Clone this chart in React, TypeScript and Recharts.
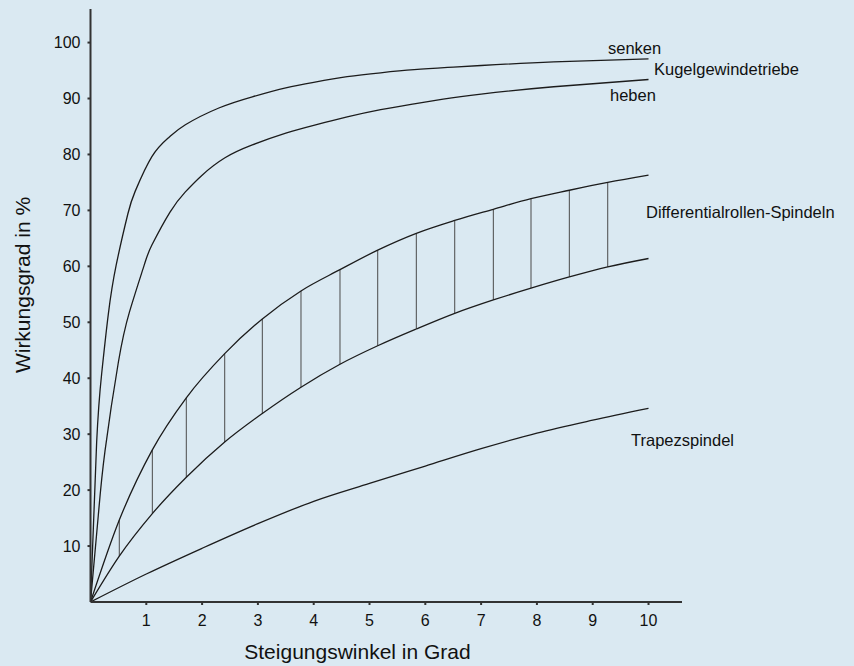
import React from 'react';
import { LineChart, Line, XAxis, YAxis, ReferenceLine } from 'recharts';

// Kugelgewindetriebe – senken
const senkenX = [0, 0.11, 0.2, 0.32, 0.46, 0.67, 0.8, 1.1, 1.4, 1.7, 2.3, 2.9, 3.5, 4.0, 4.6, 5.2, 5.8, 6.4, 7.0, 8.3, 10];
const senkenY = [0, 28.5, 40.8, 51.5, 60.2, 69.4, 73.4, 79.6, 83.0, 85.3, 88.3, 90.3, 91.9, 92.9, 93.9, 94.6, 95.15, 95.55, 95.9, 96.55, 97.1];

// Kugelgewindetriebe – heben
const hebenX = [0, 0.14, 0.26, 0.5, 0.7, 0.965, 1.1, 1.425, 1.7, 2.0, 2.41, 2.9, 3.5, 4.0, 4.6, 5.2, 5.8, 6.32, 7.0, 8.3, 10];
const hebenY = [0, 15.5, 27, 42.9, 51.9, 60.3, 63.8, 69.7, 73.3, 76.3, 79.4, 81.7, 83.8, 85.2, 86.7, 88.0, 89.05, 89.9, 90.8, 92.1, 93.4];

// Differentialrollen-Spindeln (Band)
const diffX = [0, 0.516, 1.108, 1.717, 2.405, 3.079, 3.772, 4.471, 5.147, 5.839, 6.527, 7.219, 7.894, 8.581, 9.269, 10];
const diffUpper = [0, 14.65, 27.2, 36.5, 44.4, 50.6, 55.6, 59.4, 62.9, 65.9, 68.2, 70.2, 72.1, 73.6, 75.0, 76.3];
const diffLower = [0, 8.2, 15.8, 22.3, 28.6, 33.7, 38.4, 42.5, 45.8, 48.8, 51.6, 54.0, 56.1, 58.1, 59.9, 61.4];

// Trapezspindel
const trapezX = [0, 1, 2, 3, 4, 5, 6, 7, 8, 9, 10];
const trapezY = [0, 5, 9.6, 14, 18, 21.2, 24.3, 27.4, 30.2, 32.5, 34.6];

const xTicks = [1, 2, 3, 4, 5, 6, 7, 8, 9, 10];
const yTicks = [10, 20, 30, 40, 50, 60, 70, 80, 90, 100];

const toPts = (xs: number[], ys: number[]) => xs.map((x, i) => ({ x, y: ys[i] }));

const senkenData = toPts(senkenX, senkenY);
const hebenData = toPts(hebenX, hebenY);
const upperData = toPts(diffX, diffUpper);
const lowerData = toPts(diffX, diffLower);
const trapezData = toPts(trapezX, trapezY);

const BG = '#dae9f2';
const INK = '#1c1c1c';
const FONT = '"Liberation Sans", Arial, Helvetica, sans-serif';

export default function App() {
  const hatchIdx = diffX.map((_, i) => i).filter((i) => i > 0 && i < diffX.length - 1);
  return (
    <div style={{ position: 'absolute', left: 0, top: 0, width: 854, height: 666, background: BG, fontFamily: FONT }}>
      <LineChart width={854} height={666} margin={{ top: 9, right: 172, left: 0, bottom: 0 }}>
        <XAxis
          type="number"
          dataKey="x"
          domain={[0, 10.6]}
          ticks={xTicks}
          allowDataOverflow
          height={64}
          tickSize={3}
          tickMargin={10}
          stroke="#333"
          strokeWidth={2}
          tick={{ fill: '#111', fontSize: 16, fontFamily: FONT }}
        />
        <YAxis
          type="number"
          dataKey="y"
          domain={[0, 106]}
          ticks={yTicks}
          allowDataOverflow
          width={90.5}
          tickSize={3}
          tickMargin={7}
          stroke="#333"
          strokeWidth={2}
          tick={{ fill: '#111', fontSize: 16, fontFamily: FONT }}
        />
        {hatchIdx.map((i) => (
          <ReferenceLine
            key={'h' + i}
            segment={[{ x: diffX[i], y: diffLower[i] }, { x: diffX[i], y: diffUpper[i] }]}
            stroke="#4a4a4a"
            strokeWidth={1}
            ifOverflow="visible"
          />
        ))}
        <Line data={senkenData} dataKey="y" type="natural" stroke={INK} strokeWidth={1.3} dot={false} isAnimationActive={false} />
        <Line data={hebenData} dataKey="y" type="natural" stroke={INK} strokeWidth={1.3} dot={false} isAnimationActive={false} />
        <Line data={upperData} dataKey="y" type="monotone" stroke={INK} strokeWidth={1.3} dot={false} isAnimationActive={false} />
        <Line data={lowerData} dataKey="y" type="monotone" stroke={INK} strokeWidth={1.3} dot={false} isAnimationActive={false} />
        <Line data={trapezData} dataKey="y" type="monotone" stroke={INK} strokeWidth={1.3} dot={false} isAnimationActive={false} />
      </LineChart>
      <svg width={854} height={666} style={{ position: 'absolute', left: 0, top: 0, pointerEvents: 'none' }}>
        <g fontFamily={FONT} fill="#111">
          <text x={608} y={54} fontSize={16.5}>senken</text>
          <text x={654} y={75} fontSize={16.5}>Kugelgewindetriebe</text>
          <text x={610} y={101} fontSize={16.5}>heben</text>
          <text x={646} y={218} fontSize={16.5}>Differentialrollen-Spindeln</text>
          <text x={631} y={446} fontSize={16.5}>Trapezspindel</text>
          <text x={357.5} y={659} fontSize={21} textAnchor="middle">Steigungswinkel in Grad</text>
          <text x={0} y={0} fontSize={21} textAnchor="middle" transform="translate(30,285) rotate(-90)">Wirkungsgrad in %</text>
        </g>
      </svg>
    </div>
  );
}
